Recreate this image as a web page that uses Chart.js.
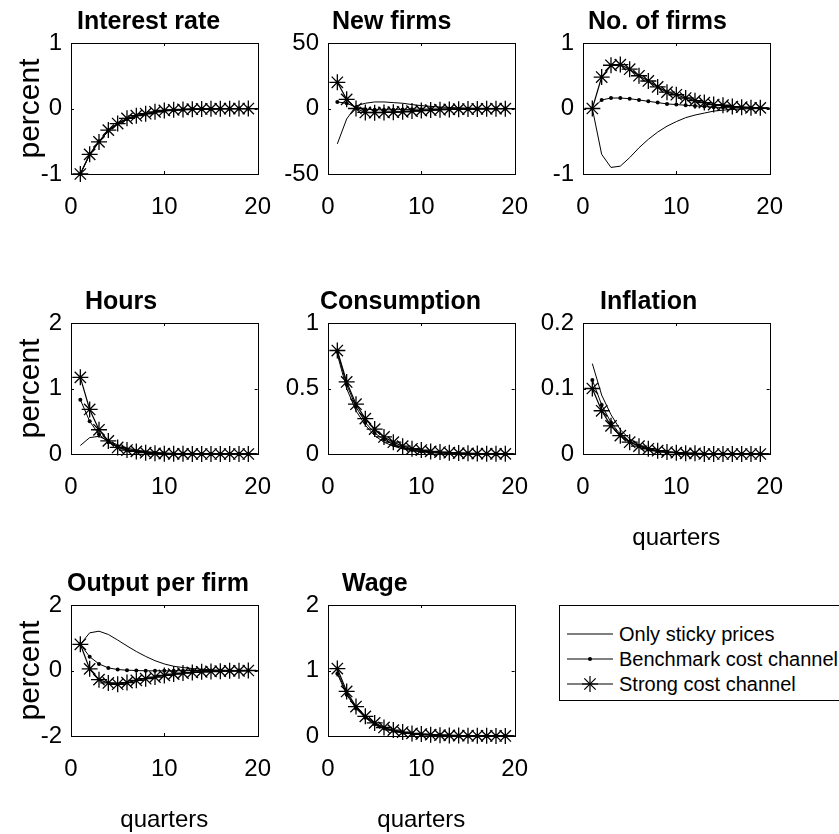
<!DOCTYPE html>
<html>
<head>
<meta charset="utf-8">
<script src="https://cdn.jsdelivr.net/npm/chart.js@4.4.1/dist/chart.umd.min.js"></script>
<style>
  body { margin: 0; background: #fff; width: 839px; height: 834px; position: relative; overflow: hidden; }
  canvas { position: absolute; }
  #legend { position: absolute; left: 559px; top: 605px; width: 284px; height: 96px; border: 1px solid #000; box-sizing: border-box; background: #fff;
            font-family: "Liberation Sans", Arial, sans-serif; font-size: 20px; color: #000; }
  #legend .row { position: absolute; left: 6px; height: 24px; }
  #legend svg { position: absolute; left: 0; top: 0; }
  #legend span { position: absolute; left: 53px; top: -1px; white-space: nowrap; line-height: 26px; }
</style>
</head>
<body>
<div id="legend">
  <div class="row" style="top:16px"><svg width="48" height="24"><line x1="1" y1="12" x2="47" y2="12" stroke="#000" stroke-width="1"/></svg><span>Only sticky prices</span></div>
  <div class="row" style="top:41px"><svg width="48" height="24"><line x1="1" y1="12" x2="47" y2="12" stroke="#000" stroke-width="1"/><circle cx="24" cy="12" r="2" fill="#000"/></svg><span>Benchmark cost channel</span></div>
  <div class="row" style="top:66px"><svg width="48" height="24"><line x1="1" y1="12" x2="47" y2="12" stroke="#000" stroke-width="1"/><g stroke="#000" stroke-width="1.2"><line x1="24" y1="4" x2="24" y2="20"/><line x1="16" y1="12" x2="32" y2="12"/><line x1="18.3" y1="6.3" x2="29.7" y2="17.7"/><line x1="18.3" y1="17.7" x2="29.7" y2="6.3"/></g></svg><span>Strong cost channel</span></div>
</div>
<script>
// quarters after the shock
const quarters = [1, 2, 3, 4, 5, 6, 7, 8, 9, 10, 11, 12, 13, 14, 15, 16, 17, 18, 19, 20];

const interestSticky = [-1, -0.71, -0.5, -0.35, -0.24, -0.17, -0.12, -0.08, -0.06, -0.04, -0.03, -0.02, -0.014, -0.01, -0.007, -0.005, -0.003, -0.002, -0.001, 0];
const interestBench  = [-1, -0.70, -0.5, -0.34, -0.23, -0.16, -0.11, -0.08, -0.05, -0.035, -0.025, -0.017, -0.012, -0.008, -0.005, -0.003, -0.002, -0.001, -0.001, 0];
const interestStrong = [-1, -0.70, -0.51, -0.33, -0.23, -0.15, -0.11, -0.08, -0.05, -0.03, -0.02, -0.015, -0.01, -0.007, -0.005, -0.003, -0.002, -0.001, -0.001, 0];

const newFirmsSticky = [-27, -8, 2, 4, 5, 5, 4.5, 4, 3, 2.2, 1.6, 1.1, 0.8, 0.5, 0.3, 0.2, 0.1, 0.05, 0, 0];
const newFirmsBench  = [5, 4, 1, -0.5, -1, -1, -1, -0.8, -0.6, -0.5, -0.4, -0.3, -0.2, -0.15, -0.1, -0.05, 0, 0, 0, 0];
const newFirmsStrong = [20, 7, 0, -3, -3.2, -3, -2.8, -2.5, -2, -1.6, -1.2, -0.9, -0.7, -0.5, -0.4, -0.3, -0.2, -0.1, -0.1, 0];

const firmsSticky = [0, -0.7, -0.9, -0.88, -0.75, -0.6, -0.47, -0.36, -0.27, -0.2, -0.14, -0.1, -0.07, -0.04, -0.025, -0.015, -0.008, -0.004, -0.002, 0];
const firmsBench  = [0, 0.13, 0.16, 0.16, 0.15, 0.13, 0.11, 0.09, 0.07, 0.06, 0.05, 0.04, 0.03, 0.02, 0.015, 0.01, 0.007, 0.005, 0.003, 0.002];
const firmsStrong = [0, 0.48, 0.66, 0.67, 0.6, 0.5, 0.42, 0.33, 0.25, 0.21, 0.16, 0.12, 0.09, 0.06, 0.05, 0.03, 0.02, 0.01, 0.01, 0.005];

const hoursSticky = [0.13, 0.25, 0.27, 0.2, 0.14, 0.09, 0.06, 0.04, 0.025, 0.015, 0.01, 0.006, 0.004, 0.002, 0.001, 0, 0, 0, 0, 0];
const hoursBench  = [0.83, 0.5, 0.3, 0.18, 0.11, 0.07, 0.04, 0.025, 0.015, 0.01, 0.006, 0.004, 0.002, 0.001, 0, 0, 0, 0, 0, 0];
const hoursStrong = [1.17, 0.68, 0.37, 0.2, 0.1, 0.06, 0.04, 0.02, 0.01, 0.005, 0.003, 0.002, 0.001, 0, 0, 0, 0, 0, 0, 0];

const consSticky = [0.76, 0.5, 0.33, 0.22, 0.14, 0.09, 0.06, 0.04, 0.025, 0.016, 0.01, 0.006, 0.004, 0.003, 0.002, 0.001, 0, 0, 0, 0];
const consBench  = [0.78, 0.53, 0.36, 0.24, 0.16, 0.11, 0.07, 0.05, 0.03, 0.02, 0.013, 0.009, 0.006, 0.004, 0.003, 0.002, 0.001, 0, 0, 0];
const consStrong = [0.79, 0.55, 0.38, 0.27, 0.19, 0.13, 0.09, 0.06, 0.04, 0.03, 0.02, 0.015, 0.01, 0.007, 0.005, 0.003, 0.002, 0.001, 0.001, 0];

const inflSticky = [0.138, 0.09, 0.06, 0.037, 0.023, 0.014, 0.008, 0.005, 0.003, 0.002, 0.001, 0.001, 0, 0, 0, 0, 0, 0, 0, 0];
const inflBench  = [0.113, 0.075, 0.048, 0.03, 0.019, 0.012, 0.007, 0.004, 0.003, 0.002, 0.001, 0.001, 0, 0, 0, 0, 0, 0, 0, 0];
const inflStrong = [0.1, 0.066, 0.043, 0.028, 0.018, 0.012, 0.008, 0.005, 0.003, 0.002, 0.001, 0.001, 0, 0, 0, 0, 0, 0, 0, 0];

const outputSticky = [0.8, 1.15, 1.2, 1.1, 0.93, 0.75, 0.58, 0.43, 0.3, 0.2, 0.13, 0.09, 0.06, 0.04, 0.02, 0.01, 0.005, 0, 0, 0];
const outputBench  = [0.8, 0.42, 0.2, 0.08, 0.03, 0.01, 0, -0.01, -0.01, -0.01, -0.01, -0.005, 0, 0, 0, 0, 0, 0, 0, 0];
const outputStrong = [0.8, 0.05, -0.28, -0.38, -0.42, -0.37, -0.3, -0.25, -0.2, -0.15, -0.11, -0.08, -0.06, -0.04, -0.03, -0.02, -0.01, -0.01, 0, 0];

const wageSticky = [0.98, 0.65, 0.43, 0.28, 0.18, 0.12, 0.08, 0.05, 0.03, 0.02, 0.013, 0.008, 0.005, 0.003, 0.002, 0.001, 0, 0, 0, 0];
const wageBench  = [0.95, 0.63, 0.42, 0.28, 0.18, 0.12, 0.08, 0.05, 0.035, 0.023, 0.015, 0.01, 0.006, 0.004, 0.003, 0.002, 0.001, 0, 0, 0];
const wageStrong = [1.03, 0.68, 0.45, 0.3, 0.2, 0.13, 0.09, 0.06, 0.04, 0.03, 0.02, 0.013, 0.009, 0.006, 0.004, 0.003, 0.002, 0.001, 0.001, 0];

const titles = ["Interest rate", "New firms", "No. of firms", "Hours", "Consumption", "Inflation", "Output per firm", "Wage"];
const yRanges = [[-1, 1, 1], [-50, 50, 50], [-1, 1, 1], [0, 2, 1], [0, 1, 0.5], [0, 0.2, 0.1], [-2, 2, 2], [0, 2, 1]];
const series = [
  [interestSticky, interestBench, interestStrong],
  [newFirmsSticky, newFirmsBench, newFirmsStrong],
  [firmsSticky, firmsBench, firmsStrong],
  [hoursSticky, hoursBench, hoursStrong],
  [consSticky, consBench, consStrong],
  [inflSticky, inflBench, inflStrong],
  [outputSticky, outputBench, outputStrong],
  [wageSticky, wageBench, wageStrong]
];

// layout of the 3x3 grid (plot-area corners in page pixels)
const colLeft = [71, 328, 583];
const rowTop = [43, 323, 605];
const plotW = 194, plotH = 131;
const titleShift = [6, 4, 5, 14, -8, 17, -4, 14];
const showYLabel = [true, false, false, true, false, false, true, false];
const showXLabel = [false, false, false, false, false, true, true, true];

const sans = '"Liberation Sans", Arial, sans-serif';
const CW = 290, CH = 280, AXW = 71, AXH = 100;

const framePlugin = {
  id: 'frame',
  afterDraw(chart) {
    const {ctx, chartArea: a, scales} = chart;
    ctx.save();
    ctx.strokeStyle = '#000';
    ctx.lineWidth = 1;
    ctx.strokeRect(Math.round(a.left) + 0.5, Math.round(a.top) + 0.5, Math.round(a.right - a.left), Math.round(a.bottom - a.top));
    ctx.beginPath();
    scales.x.ticks.forEach(t => {
      const px = Math.round(scales.x.getPixelForValue(t.value)) + 0.5;
      ctx.moveTo(px, a.bottom); ctx.lineTo(px, a.bottom - 3);
      ctx.moveTo(px, a.top); ctx.lineTo(px, a.top + 3);
    });
    scales.y.ticks.forEach(t => {
      const py = Math.round(scales.y.getPixelForValue(t.value)) + 0.5;
      ctx.moveTo(a.left, py); ctx.lineTo(a.left + 3, py);
      ctx.moveTo(a.right, py); ctx.lineTo(a.right - 3, py);
    });
    ctx.stroke();
    // panel title
    ctx.fillStyle = '#000';
    ctx.font = 'bold 25px ' + sans;
    ctx.textBaseline = 'alphabetic';
    ctx.textAlign = 'left';
    ctx.fillText(chart.options.plugins.frame.title, a.left + chart.options.plugins.frame.shift, a.top - 14);
    ctx.restore();
  }
};

function pts(arr) {
  return arr.map((v, i) => ({x: quarters[i], y: v}));
}

titles.forEach((title, i) => {
  const cv = document.createElement('canvas');
  cv.width = CW; cv.height = CH;
  cv.style.left = (colLeft[i % 3] - AXW) + 'px';
  cv.style.top = (rowTop[Math.floor(i / 3)] - 43) + 'px';
  document.body.appendChild(cv);
  const [sticky, bench, strong] = series[i];
  const [ymin, ymax, ystep] = yRanges[i];

  new Chart(cv, {
    type: 'line',
    data: {
      datasets: [
        {label: 'Only sticky prices', data: pts(sticky), borderColor: '#000', borderWidth: 1, pointRadius: 0, clip: false},
        {label: 'Benchmark cost channel', data: pts(bench), borderColor: '#000', borderWidth: 1,
          pointRadius: c => c.dataIndex < 19 ? 2 : 0, pointBackgroundColor: '#000', pointBorderWidth: 0, clip: false},
        {label: 'Strong cost channel', data: pts(strong), borderColor: '#000', borderWidth: 1.2, pointStyle: 'star',
          pointRadius: c => c.dataIndex < 19 ? 8 : 0, pointBorderColor: '#000', pointBorderWidth: 1.3, clip: false}
      ]
    },
    options: {
      responsive: false,
      animation: false,
      devicePixelRatio: 1,
      layout: {padding: {left: 0, top: 43, right: CW - AXW - plotW, bottom: CH - 43 - plotH - AXH}},
      elements: {line: {tension: 0}},
      plugins: {
        legend: {display: false},
        tooltip: {enabled: false},
        frame: {title: title, shift: titleShift[i]}
      },
      scales: {
        x: {
          type: 'linear', min: 0, max: 20,
          ticks: {stepSize: 10, padding: 19, maxRotation: 0, color: '#000', font: {family: sans, size: 24}},
          grid: {display: false, drawTicks: false},
          border: {display: false},
          title: {display: showXLabel[i], text: 'quarters', color: '#000', font: {family: sans, size: 24}, padding: {top: 0, bottom: 1}},
          afterFit: s => { s.height = AXH; }
        },
        y: {
          min: ymin, max: ymax,
          ticks: {stepSize: ystep, padding: 9, color: '#000', font: {family: sans, size: 24},
                  callback: v => String(+v.toFixed(2))},
          grid: {display: false, drawTicks: false},
          border: {display: false},
          title: {display: showYLabel[i], text: 'percent', color: '#000', font: {family: sans, size: 30}, padding: {top: 13, bottom: 0}},
          afterFit: s => { s.width = AXW; }
        }
      }
    },
    plugins: [framePlugin]
  });
});
</script>
</body>
</html>
